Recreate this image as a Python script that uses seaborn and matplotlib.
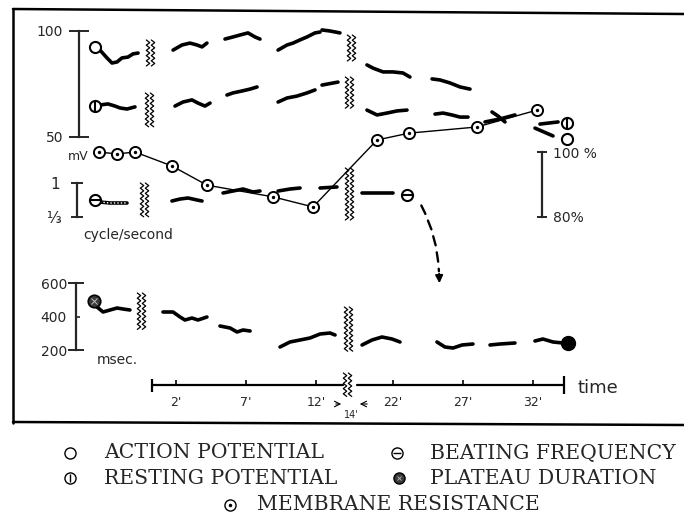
import numpy as np
import pandas as pd
import matplotlib
matplotlib.use('Agg')
import matplotlib.pyplot as plt
import seaborn as sns
from matplotlib.patches import FancyArrowPatch

nan = np.nan

# times in minutes (negative = control record), the record is broken between 14' and 19'
ap_t = [-3.43, -2.93, -2.57, -2.21, -1.86, -1.43, -1.07, -0.71, nan,
        1.79, 2.43, 3.0, 3.5, 3.86, 4.21, nan,
        5.5, 6.07, 6.57, 7.14, 7.64, 8.0, nan,
        9.29, 9.93, 10.36, 10.86, 11.36, 11.93, 12.29, nan,
        12.43, 13.0, 13.71, nan,
        20.14, 20.57, 21.29, 22.0, 22.71, 23.21, nan,
        24.79, 25.36, 26.07, 26.79, 27.5, nan,
        28.57, 29.64, 30.71, nan,
        32.14, 33.43]
ap_mv = [91.0, 87.3, 84.9, 85.4, 87.3, 87.7, 89.2, 89.6, nan,
         91.0, 93.4, 94.3, 93.4, 92.5, 94.3, nan,
         96.2, 97.2, 98.1, 99.1, 97.2, 96.2, nan,
         91.0, 93.4, 94.3, 95.8, 97.2, 99.1, 99.5, nan,
         100.5, 100.0, 99.1, nan,
         84.0, 82.5, 80.7, 80.7, 80.2, 78.3, nan,
         77.4, 76.9, 75.5, 73.6, 72.6, nan,
         57.1, 58.5, 60.4, nan,
         54.2, 50.5]
ap_end_t = [-3.79, 34.43]
ap_end_mv = [92.5, 49.1]

rp_t = [-3.43, -2.86, -2.36, -2.0, -1.5, -0.93, nan,
        1.93, 2.5, 3.14, 3.57, 4.07, 4.43, nan,
        5.64, 6.07, 6.71, 7.29, 7.79, nan,
        9.29, 9.93, 10.64, 11.36, 11.93, nan,
        12.43, 13.57, nan,
        20.14, 20.86, 21.57, 22.29, 23.0, nan,
        25.0, 25.57, 26.21, 26.79, 27.36, nan,
        29.07, 29.5, 30.0, nan,
        32.5, 33.79]
rp_mv = [65.1, 65.6, 64.6, 63.7, 63.2, 64.2, nan,
         64.6, 66.5, 67.5, 66.0, 64.6, 66.0, nan,
         69.8, 70.8, 71.7, 72.6, 73.6, nan,
         66.5, 68.4, 69.3, 70.8, 72.2, nan,
         74.5, 75.9, nan,
         62.7, 60.4, 61.3, 62.3, 62.7, nan,
         60.8, 61.3, 60.4, 59.4, 59.4, nan,
         61.8, 59.9, 57.1, nan,
         56.1, 57.1]
rp_end_t = [-3.79, 34.43]
rp_end_mv = [64.6, 56.6]

bf_t = [-3.43, -2.71, -2.0, -1.5, nan,
        1.71, 2.29, 2.86, 3.5, 3.86, nan,
        5.36, 6.07, 6.79, 7.5, 8.0, nan,
        9.29, 10.14, 10.86, nan,
        12.29, 13.5, nan,
        19.79, 20.57, 22.0]
bf_cps = [0.627, 0.608, 0.608, 0.608, nan,
          0.647, 0.686, 0.706, 0.667, 0.647, nan,
          0.804, 0.843, 0.882, 0.824, 0.843, nan,
          0.843, 0.882, 0.902, nan,
          0.902, 0.922, nan,
          0.804, 0.804, 0.804]
bf_end_t = [-3.79, 23.0]
bf_end_cps = [0.667, 0.765]

pd_t = [-3.64, -3.21, -2.71, -2.21, -1.79, -1.29, nan,
        1.07, 1.79, 2.29, 2.64, 3.14, 3.57, 4.21, nan,
        5.14, 5.86, 6.36, 6.79, 7.29, nan,
        9.43, 10.14, 10.86, 11.57, 12.29, 13.0, 13.36, nan,
        19.79, 20.5, 21.21, 21.93, 22.5, nan,
        25.14, 25.71, 26.29, 26.93, 27.71, nan,
        28.93, 29.64, 30.71, nan,
        32.14, 32.71, 33.43, 34.14]
pd_ms = [456.7, 426.9, 438.8, 450.7, 444.8, 438.8, nan,
         426.9, 426.9, 397.0, 379.1, 391.0, 379.1, 397.0, nan,
         343.3, 331.3, 307.5, 319.4, 313.4, nan,
         217.9, 247.8, 259.7, 271.6, 295.5, 301.5, 289.6, nan,
         229.9, 259.7, 277.6, 265.7, 247.8, nan,
         247.8, 217.9, 211.9, 229.9, 235.8, nan,
         229.9, 235.8, 241.8, nan,
         253.7, 265.7, 247.8, 241.8]
pd_end_t = [-3.86, 34.5]
pd_end_ms = [492.5, 241.8]

mr_t = [-3.5, -2.21, -0.93, 1.71, 4.21, 8.93, 11.79, 20.86, 23.14, 28.0, 32.29]
mr_pct = [100.0, 99.4, 100.0, 95.7, 89.8, 86.2, 83.1, 103.7, 105.8, 107.7, 112.9]

time_ticks = [2, 7, 12, 22, 27, 32]
time_start, time_end = 0.3, 34.2

legend_names = ['ACTION POTENTIAL', 'BEATING FREQUENCY', 'RESTING POTENTIAL',
                'PLATEAU DURATION', 'MEMBRANE RESISTANCE']

W, H = 684, 516
BREAK_AT, BREAK_GAP = 14.5, 4.5
PX0, PX_PER_MIN = 148, 14.0


def shown(t):
    t = np.asarray(t, dtype=float)
    return np.where(t > BREAK_AT, t - BREAK_GAP, t)


def d_of_px(px):
    return (px - PX0) / PX_PER_MIN


def fit_scale(ax, v1, p1, v2, p2):
    # value v1 sits on pixel row p1 and v2 on row p2 (rows from the top)
    k = (v1 - v2) / (p2 - p1)
    ax.set_ylim(v1 - (H - p1) * k, v1 + p1 * k)


def trace_frame(t, v):
    df = pd.DataFrame({'t': t, 'v': v})
    df['seg'] = df['v'].isna().cumsum()
    df = df.dropna().copy()
    df['x'] = shown(df['t'])
    return df


def draw_trace(ax, t, v):
    df = trace_frame(t, v)
    sns.lineplot(data=df, x='x', y='v', units='seg', estimator=None, sort=False,
                 ax=ax, color='k', lw=2.6, solid_capstyle='round',
                 solid_joinstyle='round', legend=False)


def scale_bar(ax, side, px, lo, hi, ticks, labels, length, pad, size=10):
    for s in ax.spines.values():
        s.set_visible(False)
    sp = ax.spines[side]
    sp.set_visible(True)
    sp.set_position(('data', d_of_px(px)))
    sp.set_bounds(lo, hi)
    sp.set_linewidth(1.6)
    if side == 'left':
        ax.yaxis.tick_left()
    else:
        ax.yaxis.tick_right()
    ax.set_yticks(ticks)
    ax.set_yticklabels(labels)
    ax.tick_params(axis='y', direction='inout', length=length, width=1.4,
                   pad=pad, labelsize=size)
    ax.set_ylabel('')
    ax.set_xlabel('')


def zigzag(ax, x, y0, y1, n=2, gap=5):
    ys = np.arange(y0, y1 + 0.1, 2.6)
    wob = np.where(np.arange(len(ys)) % 2 == 0, -1.7, 1.7)
    for k in range(n):
        ax.plot(x + k * gap + wob, ys, color='k', lw=0.9)


sns.set_style('white')
plt.rcParams['font.family'] = ['DejaVu Sans']

fig = plt.figure(figsize=(W / 100, H / 100), dpi=100)

deco = fig.add_axes([0, 0, 1, 1])
deco.set_xlim(0, W)
deco.set_ylim(H, 0)
deco.axis('off')

# frame
deco.plot([13, 684], [9, 14], color='k', lw=1.8)
deco.plot([13, 13], [9, 423], color='k', lw=1.8)
deco.plot([13, 684], [422, 425], color='k', lw=1.8)

# breaks in the records
for x, y0, y1 in [(148, 40, 67), (349, 35, 62), (147, 93, 127), (347, 77, 110),
                  (142, 183, 218), (347, 168, 220), (139, 293, 330), (346, 307, 353),
                  (345, 373, 397)]:
    zigzag(deco, x, y0, y1)

deco.text(78, 157, 'mV', fontsize=9, ha='center', va='center')
deco.text(83, 235, 'cycle/second', fontsize=10, ha='left', va='center')
deco.text(97, 360, 'msec.', fontsize=10, ha='left', va='center')
deco.text(577, 388, 'time', fontsize=13, ha='left', va='center')
deco.text(351, 415, "14'", fontsize=7, ha='center', va='center')
deco.annotate('', xy=(344, 404), xytext=(333, 404),
              arrowprops=dict(arrowstyle='->', lw=0.8, color='k'))
deco.annotate('', xy=(357, 404), xytext=(370, 404),
              arrowprops=dict(arrowstyle='->', lw=0.8, color='k'))

# dashed arrow from the beating frequency down to the plateau
deco.add_patch(FancyArrowPatch((420, 203), (439, 274), connectionstyle='arc3,rad=-0.12',
                               arrowstyle='-', ls=(0, (4, 3)), lw=1.7, color='k'))
deco.annotate('', xy=(439.5, 286), xytext=(439, 271),
              arrowprops=dict(arrowstyle='-|>', lw=1.4, color='k', mutation_scale=11))

# legend
serif = dict(family='DejaVu Serif', fontsize=14.7, va='center', ha='left')
mk = dict(ms=8, mec='k', mew=1.0, ls='none')
deco.plot(70, 453, 'o', mfc='white', **mk)
deco.text(104, 453, legend_names[0], **serif)
deco.plot(397, 453, 'o', mfc='white', **mk)
deco.plot(397, 453, '_', ms=6, mec='k', mew=1.0)
deco.text(430, 453, legend_names[1], **serif)
deco.plot(70, 478, 'o', mfc='white', **mk)
deco.plot(70, 478, '|', ms=6, mec='k', mew=1.0)
deco.text(104, 478, legend_names[2], **serif)
deco.plot(399, 478, 'o', mfc='#3a3a3a', **mk)
deco.plot(399, 478, 'x', ms=3.5, mec='#bbbbbb', mew=0.6)
deco.text(430, 478, legend_names[3], **serif)
deco.plot(230, 505, 'o', mfc='white', **mk)
deco.plot(230, 505, '.', ms=3, color='k')
deco.text(257, 505, legend_names[4], **serif)

# time base
tax = fig.add_axes([0, 0, 1, 1])
tax.set_ylim(H, 0)
tax.axis('off')
tax.plot([shown(time_start), d_of_px(343)], [385, 385], color='k', lw=1.6)
tax.plot([d_of_px(357), shown(time_end)], [385, 385], color='k', lw=1.6)
tax.vlines(shown(time_ticks), 380, 385, color='k', lw=1.2)
tax.vlines([shown(time_start), shown(time_end)], [379, 376], [392, 394], color='k', lw=1.6)
for t in time_ticks:
    tax.text(shown(t), 396, f"{t}'", fontsize=9, ha='center', va='top')

# action + resting potential share the mV scale
amv = tax.twinx()
draw_trace(amv, ap_t, ap_mv)
draw_trace(amv, rp_t, rp_mv)
amv.plot(shown(ap_end_t), ap_end_mv, 'o', ms=8, mfc='white', mec='k', mew=1.5)
amv.plot(shown(rp_end_t), rp_end_mv, 'o', ms=8, mfc='white', mec='k', mew=1.5)
amv.plot(shown(rp_end_t), rp_end_mv, '|', ms=7, mec='k', mew=1.5)
scale_bar(amv, 'left', 79, 50, 100, [50, 100], ['50', '100'], 15, 4)
fit_scale(amv, 100, 31, 50, 137)

# beating frequency
abf = tax.twinx()
draw_trace(abf, bf_t, bf_cps)
ctrl = trace_frame(bf_t, bf_cps).query('seg == 0')
abf.plot(ctrl['x'], ctrl['v'], color='white', lw=1.0, ls=(0, (1, 1.5)))
abf.plot(shown(bf_end_t), bf_end_cps, 'o', ms=8, mfc='white', mec='k', mew=1.5)
abf.plot(shown(bf_end_t), bf_end_cps, '_', ms=7, mec='k', mew=1.5)
scale_bar(abf, 'left', 77, 1 / 3, 1, [1 / 3, 1], ['⅓', '1'], 8, 8, size=11)
fit_scale(abf, 1, 183, 1 / 3, 217)

# plateau duration
apd = tax.twinx()
draw_trace(apd, pd_t, pd_ms)
apd.plot(shown(pd_end_t[:1]), pd_end_ms[:1], 'o', ms=9, mfc='#3a3a3a', mec='k', mew=1.2)
apd.plot(shown(pd_end_t[:1]), pd_end_ms[:1], 'x', ms=4, mec='#bbbbbb', mew=0.7)
apd.plot(shown(pd_end_t[1:]), pd_end_ms[1:], 'o', ms=10, mfc='k', mec='k')
scale_bar(apd, 'left', 76, 200, 600, [200, 600], ['200', '600'], 11.5, 0.5)
apd.set_yticks([400], minor=True)
apd.set_yticklabels(['400'], minor=True)
apd.tick_params(axis='y', which='minor', direction='in', length=3, width=1.2,
                pad=6.5, labelsize=10)
fit_scale(apd, 600, 283, 200, 350)

# membrane resistance
amr = tax.twinx()
sns.lineplot(x=shown(mr_t), y=mr_pct, ax=amr, sort=False, color='k', lw=1.0,
             marker='o', markersize=8, markerfacecolor='white',
             markeredgecolor='k', markeredgewidth=1.4)
sns.scatterplot(x=shown(mr_t), y=mr_pct, ax=amr, s=6, color='k', linewidth=0, zorder=4)
scale_bar(amr, 'right', 542, 80, 100, [80, 100], ['80%', '100 %'], 7, 4.5)
fit_scale(amr, 100, 152, 80, 217)

tax.set_xlim(d_of_px(0), d_of_px(W))

fig.savefig('out.png', dpi=100)
